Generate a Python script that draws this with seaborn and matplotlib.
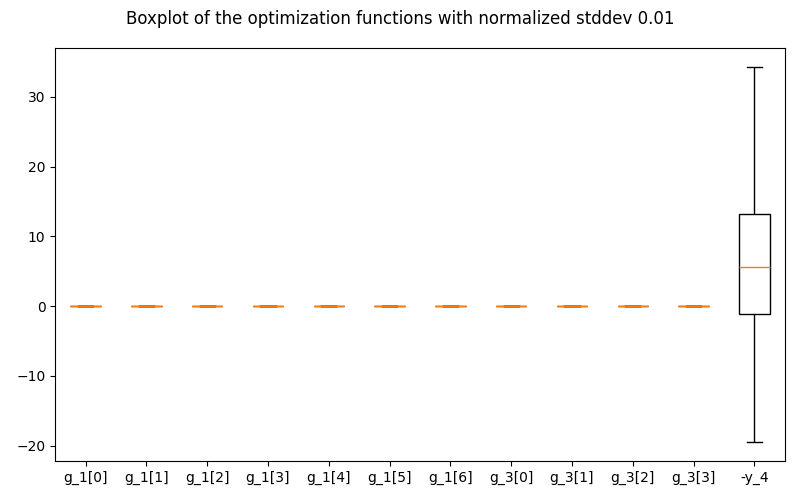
import matplotlib
matplotlib.use("Agg")
import matplotlib.pyplot as plt
import seaborn as sns
import pandas as pd

categories = ["g_1[0]", "g_1[1]", "g_1[2]", "g_1[3]", "g_1[4]", "g_1[5]", "g_1[6]",
              "g_3[0]", "g_3[1]", "g_3[2]", "g_3[3]", "-y_4"]

# five representative values per category: min, Q1, median, Q3, max
small_vals = [-0.03, -0.01, 0.0, 0.01, 0.03]
y4_vals = [-19.5, -1.15, 5.6, 13.2, 34.3]

rows = []
for c in categories:
    vals = y4_vals if c == "-y_4" else small_vals
    for v in vals:
        rows.append({"name": c, "value": v})
df = pd.DataFrame(rows)

fig = plt.figure(figsize=(8, 5), dpi=100)
ax = fig.add_axes([0.069, 0.078, 0.912, 0.826])
sns.boxplot(data=df, x="name", y="value", order=categories, ax=ax, width=0.5,
            whis=1.5, showfliers=False,
            boxprops=dict(facecolor="white", edgecolor="black", linewidth=1),
            whiskerprops=dict(color="black", linewidth=1),
            capprops=dict(color="black", linewidth=1),
            medianprops=dict(color="#ff7f0e", linewidth=1))
ax.set_xlabel("")
ax.set_ylabel("")
ax.set_xlim(-0.5, len(categories) - 0.5)
ax.set_ylim(-22.2, 37.0)
fig.suptitle("Boxplot of the optimization functions with normalized stddev 0.01", fontsize=12, y=0.98)
fig.savefig("out.png", dpi=100)
